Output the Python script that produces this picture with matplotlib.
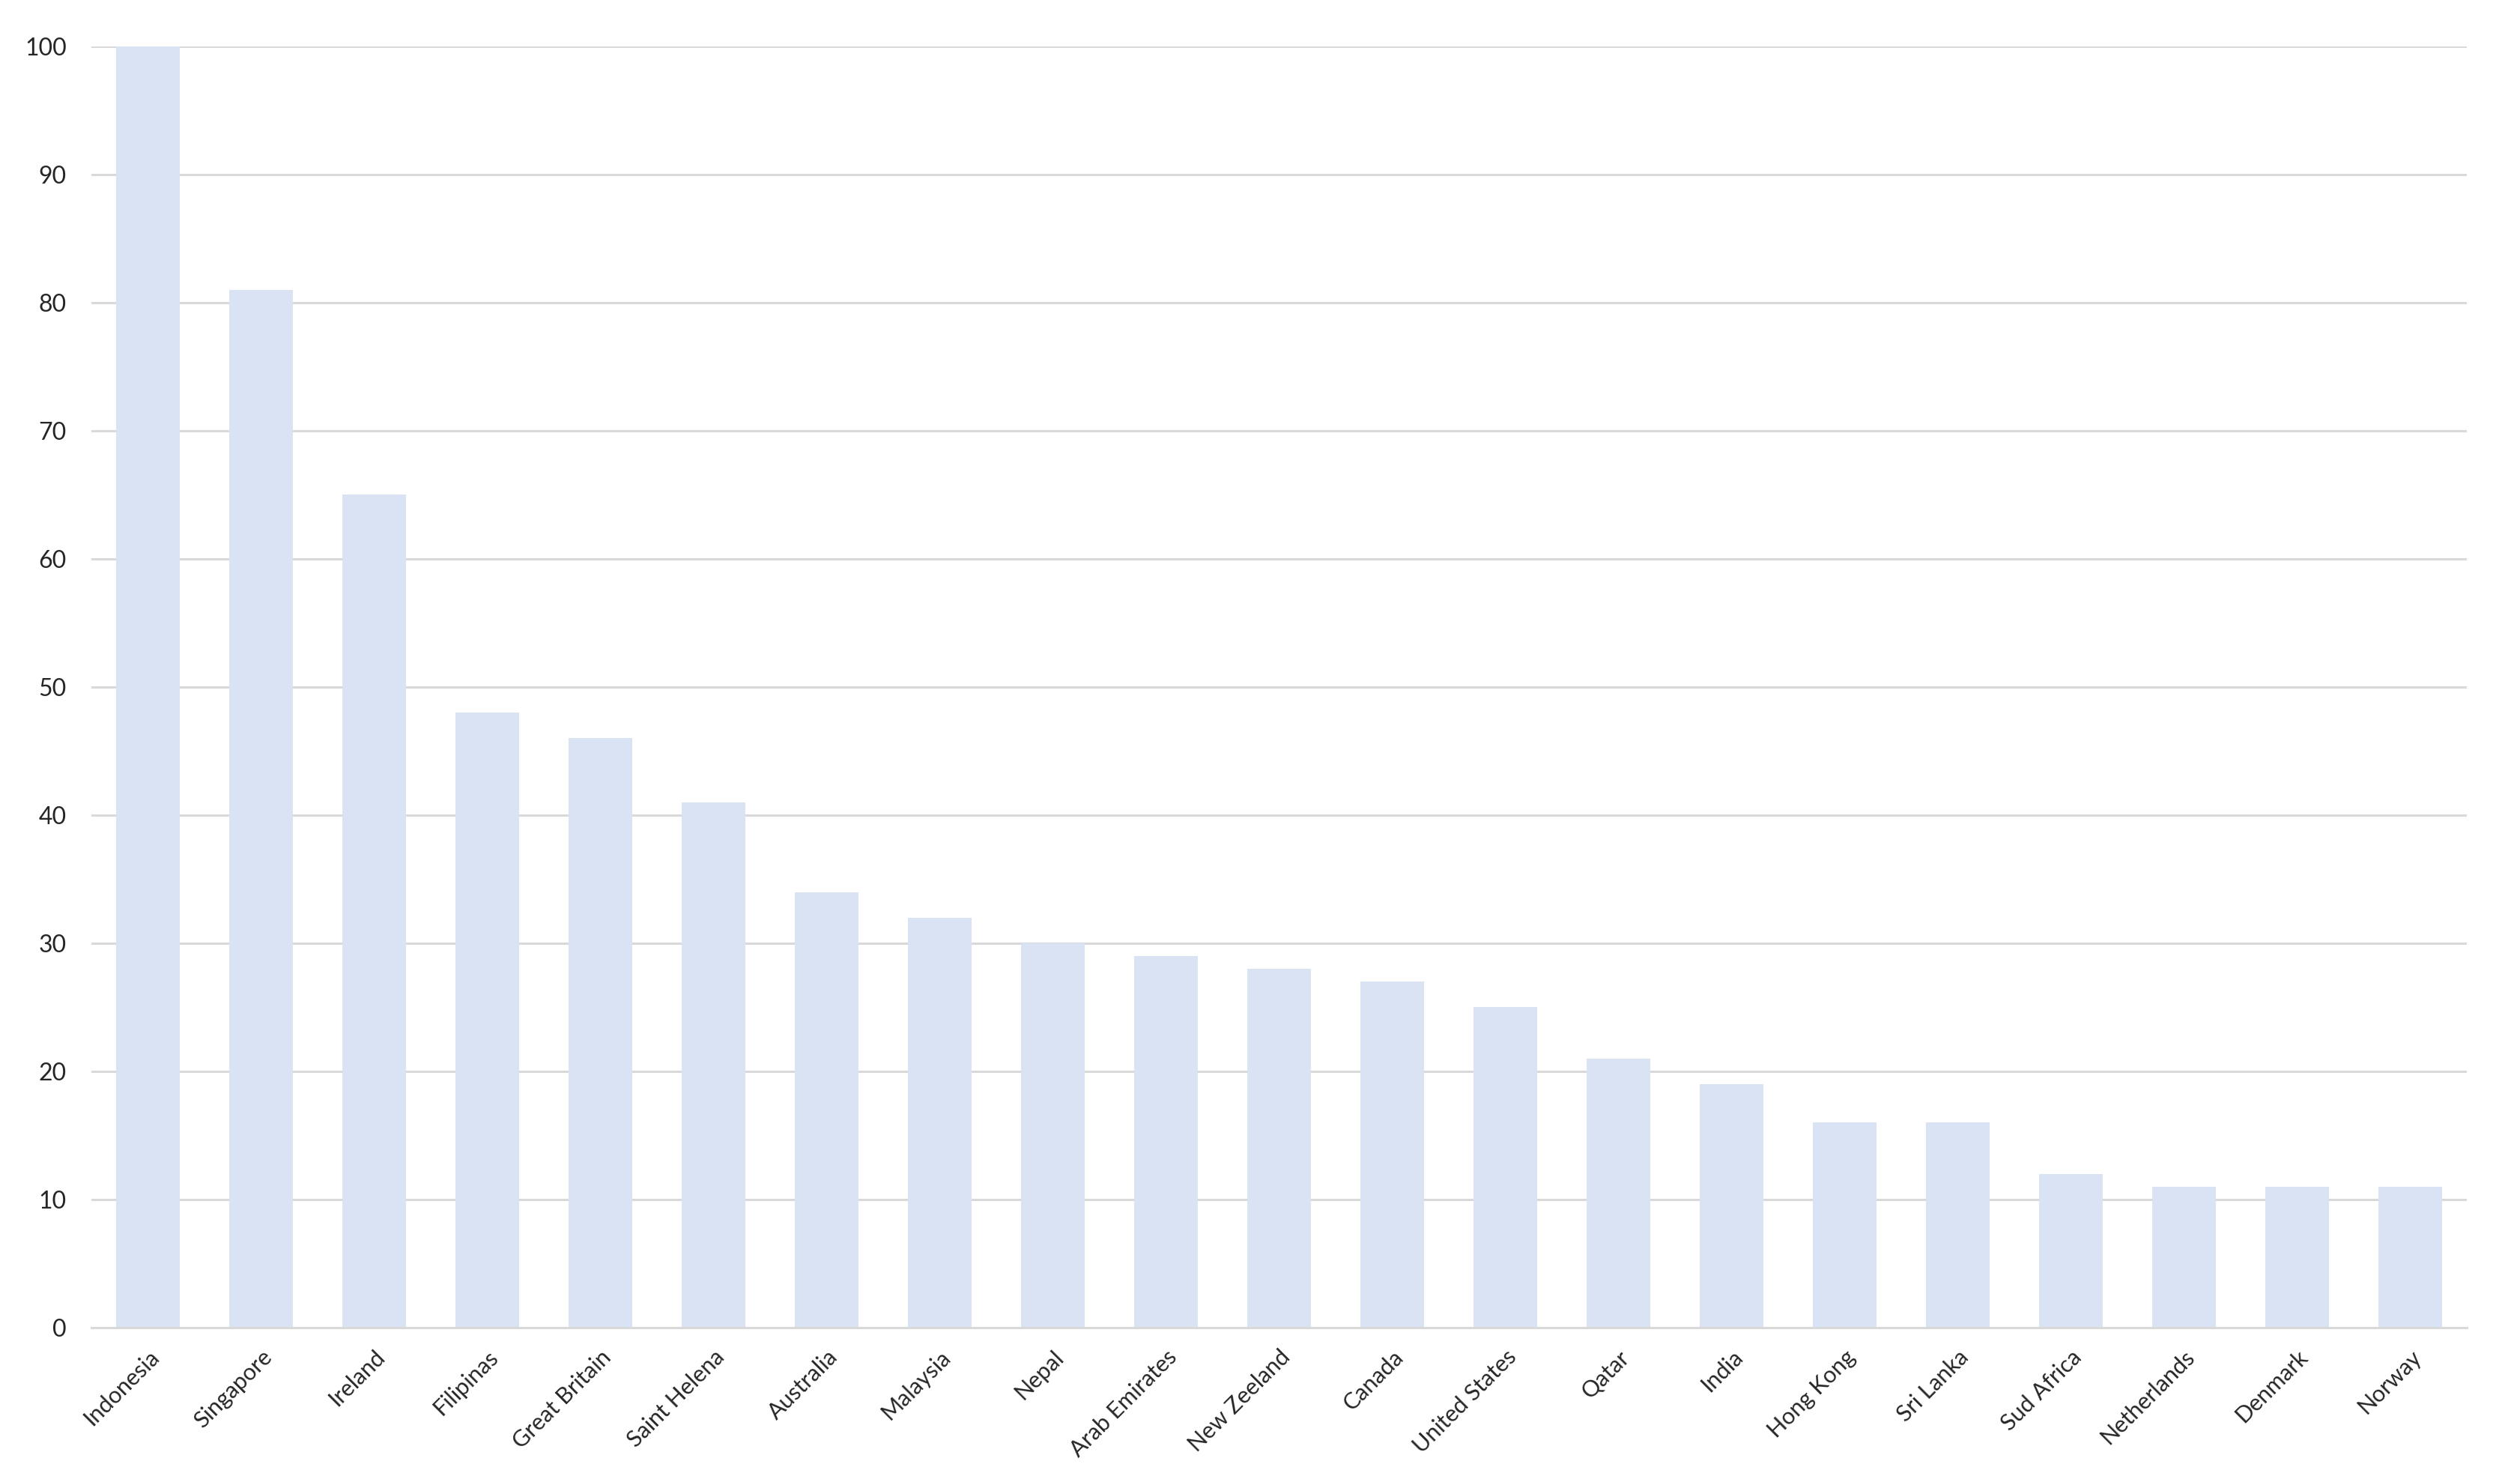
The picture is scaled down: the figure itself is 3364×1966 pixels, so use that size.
import matplotlib.pyplot as plt
import numpy as np

# Data
countries = [
    "Indonesia", "Singapore", "Ireland", "Filipinas", "Great Britain",
    "Saint Helena", "Australia", "Malaysia", "Nepal", "Arab Emirates",
    "New Zeeland", "Canada", "United States", "Qatar", "India",
    "Hong Kong", "Sri Lanka", "Sud Africa", "Netherlands", "Denmark", "Norway",
]
values = [100, 81, 65, 48, 46, 41, 34, 32, 30, 29, 28, 27, 25, 21, 19, 16, 16, 12, 11, 11, 11]
y_ticks = list(range(0, 101, 10))

BAR_COLOR = "#DAE3F3"
GRID_COLOR = "#D9D9D9"
TEXT_COLOR = "#262626"

plt.rcParams["font.family"] = ["Lato", "DejaVu Sans"]

fig = plt.figure(figsize=(33.64, 19.66), dpi=100)
ax = fig.add_axes([0.0363, 0.0987, 0.9426, 0.8698])

x = np.arange(len(countries))
ax.bar(x, values, width=0.56, color=BAR_COLOR, zorder=2)

ax.set_xlim(-0.5, len(countries) - 0.5)
ax.set_ylim(0, 100)
ax.set_yticks(y_ticks)
ax.set_xticks(x)
ax.set_xticklabels(countries, rotation=45, ha="right", rotation_mode="anchor",
                   fontsize=22, color=TEXT_COLOR)
ax.tick_params(axis="y", labelsize=23, labelcolor=TEXT_COLOR, length=0, pad=24)
ax.tick_params(axis="x", length=0, pad=18)

ax.yaxis.grid(True, color=GRID_COLOR, linewidth=2.2, zorder=1)
ax.set_axisbelow(True)
for side in ("top", "right", "left"):
    ax.spines[side].set_visible(False)
ax.spines["bottom"].set_color(GRID_COLOR)
ax.spines["bottom"].set_linewidth(2.2)
ax.spines["bottom"].set_zorder(3)

fig.savefig("out.png", dpi=100, facecolor="white")
